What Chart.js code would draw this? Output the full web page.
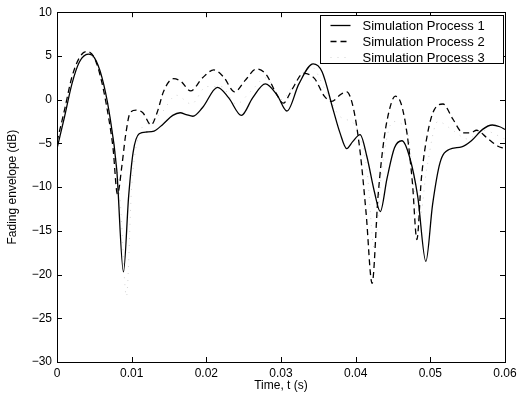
<!DOCTYPE html>
<html>
<head>
<meta charset="UTF-8">
<script src="https://cdn.jsdelivr.net/npm/chart.js@4.4.7/dist/chart.umd.min.js"></script>
<style>
  html, body { margin: 0; padding: 0; background: #fff; }
  #wrap { width: 521px; height: 393px; }
</style>
</head>
<body>
<div id="wrap"><canvas id="c" width="521" height="393"></canvas></div>
<script>
// time in ms, envelope in dB
const t1 = [0, 1, 2, 3, 4.2, 5, 6, 7, 8, 8.9, 9.6, 10.2, 11, 12, 13, 14.2, 15.5, 16.5, 17.3, 18.2, 19.5, 21.5, 23, 24.7, 26.2, 27.9, 29.5, 30.8, 32.4, 34.3, 35.5, 37, 37.9, 38.8, 39.6, 40.6, 41.5, 42.5, 43.3, 44.2, 45.2, 46.2, 47.2, 48.3, 49.4, 50.3, 51.3, 52.5, 54.2, 55.5, 57, 58.3, 59.3, 60];
const p1 = [-5.6, -2.0, 1.8, 4.3, 5.2, 4.8, 2.6, -1.5, -8, -19.7, -11, -6, -3.9, -3.7, -3.6, -2.8, -1.8, -1.5, -1.7, -1.9, -0.9, 1.4, 0.2, -1.8, 0.2, 1.8, 0.5, -1.3, 1.8, 4.1, 3.2, -1.2, -3.8, -5.6, -4.8, -4.0, -6.5, -10.5, -12.8, -9, -5.5, -4.7, -6.5, -11, -18.5, -12, -7.2, -5.7, -5.4, -4.7, -3.4, -2.9, -3.1, -3.4];

const t2 = [0, 1, 2, 3, 3.9, 5, 6, 7, 7.5, 8.1, 8.7, 9.2, 9.8, 10.6, 11.5, 12.6, 13.4, 14.3, 15.6, 16.6, 17.9, 19.5, 21, 22.3, 23.8, 25.2, 26.7, 28, 29.3, 30.3, 31.5, 33, 34.5, 35.8, 36.8, 38, 38.8, 39.7, 40.6, 41.4, 42.2, 43, 43.8, 44.6, 45.3, 46.1, 46.9, 47.6, 48.2, 48.8, 49.6, 50.5, 51.7, 53, 54.4, 55.4, 56.2, 57.5, 59, 60];
const p2 = [-4.8, -1.2, 2.6, 4.8, 5.5, 4.8, 2, -2.5, -5.5, -10.8, -7.5, -4, -1.5, -1.2, -1.5, -2.9, -1.5, 1.0, 2.4, 2.1, 1.0, 2.5, 3.4, 2.6, 0.9, 2.2, 3.5, 2.9, 0.8, -0.4, 1.2, 3.0, 2.4, 0.4, -0.2, 0.6, 0.9, -1, -6, -13, -21, -11, -4.5, -0.9, 0.4, -0.5, -4, -9.5, -16, -9, -4, -1.2, -0.5, -2.2, -3.8, -3.8, -3.5, -4.3, -5.3, -5.6];

const t3 = [0, 2, 4, 6, 7.5, 8.5, 9.3, 10, 11, 12.5, 14, 16, 18, 20, 22, 24, 26, 28, 30, 32, 34, 36, 38, 40, 41.5, 42.5, 43.5, 45, 47, 48.5, 49.5, 51, 53, 55, 57, 60];
const p3 = [-5.2, 2.2, 5.3, 2.3, -4, -12, -22.5, -10, -4, -2.5, -1.5, 0.5, -0.5, 1.5, 1.5, -0.5, 1, 2.5, 0, 2, 3.8, 1, -2, -3, -8, -17, -8, -2.5, -4, -14, -8, -2.5, -3.5, -4.5, -3.5, -4.5];

const seriesNames = ['Simulation Process 1', 'Simulation Process 2', 'Simulation Process 3'];
const xTicks = [0, 0.01, 0.02, 0.03, 0.04, 0.05, 0.06];
const yTicks = [-30, -25, -20, -15, -10, -5, 0, 5, 10];

const pts = (t, v) => t.map((x, i) => ({ x: x / 1000, y: v[i] }));
const FONT = 'Liberation Sans, Arial, Helvetica, sans-serif';

// frame, inward ticks and legend box, matlab style
const framePlugin = {
  id: 'frame',
  afterDatasetsDraw(chart) {
    const ctx = chart.ctx, a = chart.chartArea;
    const xs = chart.scales.x, ys = chart.scales.y;
    ctx.save();
    ctx.strokeStyle = '#000';
    ctx.lineWidth = 1;
    ctx.beginPath();
    xTicks.forEach(v => {
      const px = Math.round(xs.getPixelForValue(v)) + 0.5;
      ctx.moveTo(px, a.bottom); ctx.lineTo(px, a.bottom - 5);
      ctx.moveTo(px, a.top); ctx.lineTo(px, a.top + 5);
    });
    yTicks.forEach(v => {
      const py = Math.round(ys.getPixelForValue(v)) + 0.5;
      ctx.moveTo(a.left, py); ctx.lineTo(a.left + 5, py);
      ctx.moveTo(a.right, py); ctx.lineTo(a.right - 5, py);
    });
    ctx.stroke();
    ctx.strokeRect(Math.round(a.left) + 0.5, Math.round(a.top) + 0.5, Math.round(a.right - a.left), Math.round(a.bottom - a.top));

    // legend
    const bx = Math.round(a.right) - 185 + 0.5, by = Math.round(a.top) + 3.5, bw = 183, bh = 48;
    ctx.fillStyle = '#fff';
    ctx.fillRect(bx, by, bw, bh);
    ctx.strokeRect(bx, by, bw, bh);
    ctx.font = '13px ' + FONT;
    ctx.textBaseline = 'middle';
    chart.data.datasets.forEach((ds, i) => {
      const ry = by + 10 + i * 16;
      ctx.save();
      ctx.strokeStyle = ds.borderColor;
      ctx.lineWidth = ds.borderWidth;
      ctx.setLineDash(ds.borderDash || []);
      ctx.beginPath();
      ctx.moveTo(bx + 10, ry); ctx.lineTo(bx + 30, ry);
      ctx.stroke();
      ctx.restore();
      ctx.fillStyle = '#000';
      ctx.fillText(ds.label, bx + 42, ry + 0.5);
    });
    ctx.restore();
  }
};

new Chart(document.getElementById('c'), {
  type: 'line',
  data: {
    datasets: [
      { label: seriesNames[0], data: pts(t1, p1), borderColor: '#000', borderWidth: 1.3, cubicInterpolationMode: 'monotone' },
      { label: seriesNames[1], data: pts(t2, p2), borderColor: '#000', borderWidth: 1.3, borderDash: [6, 4], cubicInterpolationMode: 'monotone' },
      { label: seriesNames[2], data: pts(t3, p3), borderColor: '#d2d2d2', borderWidth: 1, borderDash: [1, 6], cubicInterpolationMode: 'monotone' }
    ]
  },
  options: {
    responsive: false,
    animation: false,
    elements: { point: { radius: 0 } },
    layout: { padding: { top: 12, right: 16, left: 0, bottom: 0 } },
    plugins: { legend: { display: false }, tooltip: { enabled: false } },
    scales: {
      x: {
        type: 'linear', min: 0, max: 0.06,
        afterBuildTicks: s => { s.ticks = xTicks.map(v => ({ value: v })); },
        afterFit: s => { s.height = 31; },
        grid: { display: false, drawTicks: false },
        border: { display: false },
        ticks: {
          color: '#000', padding: 4, maxRotation: 0,
          font: { family: FONT, size: 12 },
          callback: v => v === 0 ? '0' : (Math.round(v * 100) / 100).toFixed(2)
        },
        title: { display: true, text: 'Time, t (s)', color: '#000', font: { family: FONT, size: 12 }, padding: { top: 0, bottom: 0 } }
      },
      y: {
        type: 'linear', min: -30, max: 10,
        afterBuildTicks: s => { s.ticks = yTicks.map(v => ({ value: v })); },
        afterFit: s => { s.width = 57; },
        grid: { display: false, drawTicks: false },
        border: { display: false },
        ticks: {
          color: '#000', padding: 5,
          font: { family: FONT, size: 12 },
          callback: v => String(v).replace('-', '\u2212')
        },
        title: { display: true, text: 'Fading envelope (dB)', color: '#000', font: { family: FONT, size: 12 }, padding: { top: 5, bottom: 0 } }
      }
    }
  },
  plugins: [framePlugin]
});
</script>
</body>
</html>
